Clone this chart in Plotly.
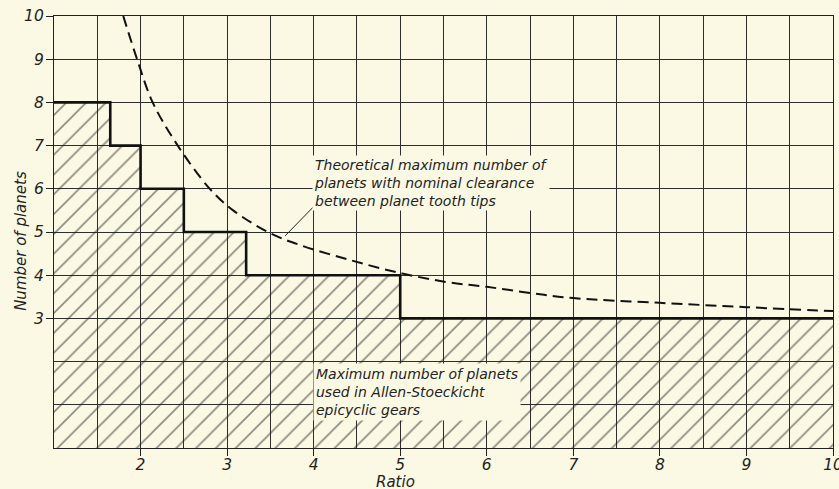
import plotly.graph_objects as go

# Step: maximum number of planets used in Allen-Stoeckicht gears
step_ratio = [1.0, 1.65, 2.0, 2.5, 3.22, 5.0, 10.0]
step_planets = [8, 7, 6, 5, 4, 3, 3]

# Theoretical maximum (dashed curve)
theo_ratio = [1.80, 1.96, 2.14, 2.43, 2.80, 3.07, 3.49, 3.84, 4.42, 5.0, 5.54, 6.0, 6.5, 7.0, 8.0, 9.0, 10.0]
theo_planets = [10.0, 9.0, 8.0, 7.0, 6.0, 5.5, 4.98, 4.70, 4.35, 4.05, 3.84, 3.73, 3.59, 3.47, 3.36, 3.26, 3.17]

x_ticks = [2, 3, 4, 5, 6, 7, 8, 9, 10]
y_ticks = [3, 4, 5, 6, 7, 8, 9, 10]

BG = "#fbf9e4"
INK = "#222222"
GRID = "#2e2e2e"
FONT = "DejaVu Sans"

fig = go.Figure()

fig.add_trace(go.Scatter(
    x=step_ratio, y=step_planets, mode="lines", line_shape="hv",
    line=dict(color="#111111", width=2.6),
    fill="tozeroy", fillcolor="rgba(0,0,0,0)",
    fillpattern=dict(shape="/", size=14, solidity=0.12, fgcolor="#1e1e1e", bgcolor="rgba(0,0,0,0)"),
    hoverinfo="skip", showlegend=False,
))

fig.add_trace(go.Scatter(
    x=theo_ratio, y=theo_planets, mode="lines", line_shape="spline",
    line=dict(color="#111111", width=2, dash="11px,6px"),
    hoverinfo="skip", showlegend=False,
))

tickfont = dict(family=FONT, size=15.5, color=INK, style="italic")

fig.update_xaxes(
    range=[1, 10], tickvals=x_ticks, ticktext=[str(v) for v in x_ticks],
    ticks="outside", ticklen=7, tickcolor=INK, tickwidth=1,
    ticklabelstandoff=-5, ticklabeloverflow="allow",
    showgrid=True, gridcolor=GRID, gridwidth=1,
    minor=dict(dtick=0.5, tick0=1, showgrid=True, gridcolor=GRID, gridwidth=1, ticks=""),
    showline=True, linecolor=INK, linewidth=1.2, mirror=True,
    zeroline=False, tickfont=tickfont, automargin=False,
)
fig.update_yaxes(
    range=[0, 10], tickvals=y_ticks, ticktext=[str(v) for v in y_ticks],
    ticks="outside", ticklen=7, tickcolor=INK, tickwidth=1,
    ticklabelstandoff=-1, ticklabeloverflow="allow",
    showgrid=True, gridcolor=GRID, gridwidth=1,
    minor=dict(dtick=1, tick0=0, showgrid=True, gridcolor=GRID, gridwidth=1, ticks=""),
    showline=True, linecolor=INK, linewidth=1.2, mirror=True,
    zeroline=False, tickfont=tickfont, automargin=False,
)

annfont = dict(family=FONT, size=14, color=INK, style="italic")

fig.add_annotation(
    x=3.98, y=6.78, xref="x", yref="y", xanchor="left", yanchor="top",
    text="Theoretical maximum number of<br>planets with nominal clearance<br>between planet tooth tips",
    showarrow=False, align="left", font=annfont, bgcolor=BG, borderpad=1,
)
fig.add_annotation(
    x=3.99, y=1.97, xref="x", yref="y", xanchor="left", yanchor="top",
    text="Maximum number of planets<br>used in Allen-Stoeckicht<br>epicyclic gears",
    showarrow=False, align="left", font=annfont, bgcolor=BG, borderpad=2,
)
# leader line for the curve label
fig.add_shape(type="line", x0=4.04, y0=5.67, x1=3.67, y1=4.91, xref="x", yref="y",
              line=dict(color=INK, width=1))

fig.add_annotation(
    x=4.95, y=-0.078, xref="x", yref="paper", yanchor="middle", showarrow=False,
    text="Ratio", font=dict(family=FONT, size=15, color=INK, style="italic"),
)
fig.add_annotation(
    x=-0.0575, y=0.48, xref="paper", yref="paper", textangle=-90, showarrow=False,
    text="Number of planets", font=dict(family=FONT, size=15, color=INK, style="italic"),
)

fig.update_layout(
    width=839, height=489,
    margin=dict(l=54, r=6, t=16, b=41, autoexpand=False),
    paper_bgcolor=BG, plot_bgcolor=BG,
    showlegend=False,
)

fig.write_html(
    "out.html",
    config={"displayModeBar": False},
    post_script="document.body.style.margin='0';document.body.style.background='%s';" % BG,
)
